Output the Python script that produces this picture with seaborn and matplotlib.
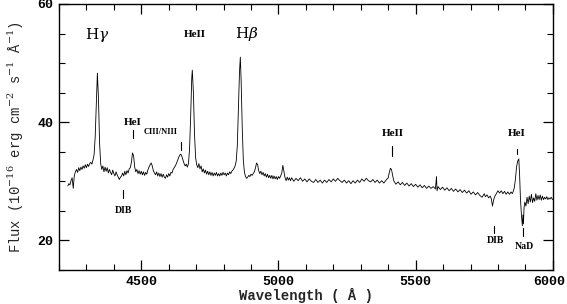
import matplotlib
matplotlib.use("Agg")
import matplotlib.pyplot as plt
import matplotlib.transforms as mtransforms
import seaborn as sns
import pandas as pd
from matplotlib.ticker import MultipleLocator

wave = [4232, 4236, 4240, 4244, 4248, 4252, 4256, 4260, 4264, 4268, 4272, 4276, 4280, 4284, 4288, 4292, 4296, 4300, 4304, 4308, 4312, 4316, 4320, 4324, 4328, 4332, 4336, 4340, 4344, 4348, 4352, 4356, 4360, 4364, 4368, 4372, 4376, 4380, 4384, 4388, 4392, 4396, 4400, 4404, 4408, 4412, 4416, 4420, 4424, 4428, 4432, 4436, 4440, 4444, 4448, 4452, 4456, 4460, 4464, 4468, 4472, 4476, 4480, 4484, 4488, 4492, 4496, 4500, 4504, 4508, 4512, 4516, 4520, 4524, 4528, 4532, 4536, 4540, 4544, 4548, 4552, 4556, 4560, 4564, 4568, 4572, 4576, 4580, 4584, 4588, 4592, 4596, 4600, 4604, 4608, 4612, 4616, 4620, 4624, 4628, 4632, 4636, 4640, 4644, 4648, 4652, 4656, 4660, 4664, 4668, 4672, 4676, 4680, 4684, 4686, 4690, 4694, 4698, 4702, 4706, 4710, 4714, 4718, 4722, 4726, 4730, 4734, 4738, 4742, 4746, 4750, 4754, 4758, 4762, 4766, 4770, 4774, 4778, 4782, 4786, 4790, 4794, 4798, 4802, 4806, 4810, 4814, 4818, 4822, 4826, 4830, 4834, 4838, 4842, 4846, 4850, 4854, 4858, 4861, 4864, 4868, 4872, 4876, 4880, 4884, 4888, 4892, 4896, 4900, 4904, 4908, 4912, 4916, 4920, 4924, 4928, 4932, 4936, 4940, 4944, 4948, 4952, 4956, 4960, 4964, 4968, 4972, 4976, 4980, 4984, 4988, 4992, 4996, 5000, 5004, 5008, 5012, 5016, 5020, 5024, 5028, 5032, 5036, 5040, 5044, 5048, 5056, 5064, 5072, 5080, 5088, 5096, 5104, 5112, 5120, 5128, 5136, 5144, 5152, 5160, 5168, 5176, 5184, 5192, 5200, 5208, 5216, 5224, 5232, 5240, 5248, 5256, 5264, 5272, 5280, 5288, 5296, 5304, 5312, 5320, 5328, 5336, 5344, 5352, 5360, 5368, 5376, 5384, 5392, 5400, 5404, 5408, 5412, 5416, 5420, 5428, 5436, 5444, 5452, 5460, 5468, 5476, 5484, 5492, 5500, 5508, 5516, 5524, 5532, 5540, 5548, 5556, 5564, 5572, 5576, 5578, 5582, 5590, 5598, 5606, 5614, 5622, 5630, 5638, 5646, 5654, 5662, 5670, 5678, 5686, 5694, 5702, 5710, 5718, 5726, 5734, 5742, 5750, 5754, 5760, 5766, 5772, 5776, 5780, 5784, 5788, 5794, 5800, 5806, 5812, 5818, 5824, 5830, 5836, 5842, 5848, 5852, 5856, 5860, 5864, 5868, 5872, 5876, 5879, 5882, 5886, 5889, 5891, 5893, 5895, 5898, 5902, 5906, 5910, 5914, 5918, 5922, 5926, 5930, 5934, 5938, 5942, 5946, 5950, 5954, 5958, 5962, 5966, 5970, 5974, 5978, 5982, 5986, 5990, 5994, 5999]

flux = [29.2, 29.6, 29.4, 30.1, 30.6, 28.8, 31.0, 31.6, 32.0, 31.5, 32.3, 31.8, 32.4, 32.0, 32.6, 32.2, 32.8, 32.3, 32.9, 32.5, 33.0, 33.2, 32.9, 33.6, 34.5, 37.5, 43.0, 48.3, 44.0, 36.5, 33.0, 32.0, 32.6, 31.6, 32.4, 31.7, 32.3, 31.4, 32.0, 31.5, 31.1, 31.9, 31.3, 30.9, 31.6, 31.1, 30.7, 30.3, 30.7, 30.9, 31.4, 30.9, 31.7, 31.1, 31.8, 31.4, 32.1, 32.3, 33.2, 34.8, 34.3, 32.4, 31.6, 32.0, 31.3, 31.8, 31.2, 31.7, 31.1, 31.6, 31.0, 31.5, 31.2, 31.9, 32.4, 32.8, 33.1, 32.6, 31.8, 31.4, 31.1, 31.6, 30.9, 31.4, 30.8, 31.3, 30.7, 31.2, 30.7, 30.5, 31.1, 30.7, 31.3, 30.9, 31.5, 31.4, 32.0, 32.3, 32.6, 33.0, 33.5, 34.0, 34.4, 34.6, 34.2, 33.6, 33.0, 32.6, 32.9, 32.4, 33.0, 35.5, 41.0, 47.5, 48.8, 45.0, 38.0, 34.0, 32.8, 32.3, 33.0, 32.1, 32.6, 31.6, 32.1, 31.4, 31.9, 31.2, 31.7, 31.1, 31.6, 31.0, 31.5, 30.9, 31.4, 31.0, 31.5, 30.9, 31.3, 30.9, 31.4, 31.0, 31.5, 31.1, 31.4, 30.9, 31.4, 31.1, 31.6, 31.3, 31.7, 31.9, 32.2, 32.6, 33.4, 36.0, 42.0, 48.5, 51.0, 47.0, 39.0, 33.5, 31.5, 30.8, 30.5, 30.7, 31.0, 30.8, 31.2, 31.0, 31.3, 31.6, 32.2, 33.1, 32.8, 31.8, 31.3, 31.7, 31.1, 31.5, 30.9, 31.3, 30.7, 31.2, 30.6, 31.0, 30.5, 31.0, 30.4, 30.9, 30.4, 30.8, 30.3, 30.8, 30.5, 30.9, 31.4, 32.7, 31.6, 30.6, 30.1, 30.7, 30.2, 30.6, 30.1, 30.6, 30.0, 30.5, 30.1, 30.6, 30.0, 30.4, 29.9, 30.4, 30.0, 29.8, 30.3, 29.8, 30.2, 29.7, 30.2, 29.8, 30.3, 29.9, 30.4, 30.0, 30.5, 30.1, 29.8, 30.2, 29.7, 30.1, 29.6, 30.1, 29.7, 30.2, 29.8, 30.4, 30.0, 30.5, 30.1, 29.9, 30.3, 29.8, 30.2, 29.7, 30.1, 29.7, 30.2, 30.6, 31.5, 32.2, 32.0, 31.0, 30.1, 29.5, 29.9, 29.4, 29.8, 29.3, 29.7, 29.2, 29.6, 29.1, 29.5, 29.0, 29.4, 28.9, 29.3, 28.8, 29.2, 28.8, 29.1, 28.7, 30.8, 28.4, 29.1, 28.6, 29.0, 28.5, 28.9, 28.4, 28.8, 28.3, 28.7, 28.2, 28.6, 28.1, 28.5, 28.0, 28.4, 27.8, 28.2, 27.7, 28.1, 27.6, 27.3, 27.9, 27.4, 27.7, 27.2, 27.5, 27.0, 25.8, 26.8, 27.4, 27.9, 28.4, 28.0, 28.4, 27.9, 28.3, 27.8, 28.2, 27.8, 28.2, 27.9, 28.3, 29.0, 30.5, 32.5, 33.4, 33.8, 31.0, 27.0, 24.0, 22.5, 24.3, 22.8, 25.5, 26.5, 25.8, 27.3, 26.2, 27.5, 26.5, 27.8, 26.4, 27.2, 26.6, 27.9, 26.8, 27.6, 26.9, 27.7, 26.8, 27.5, 26.9, 27.3, 27.0, 27.4, 26.9, 27.2, 27.0, 27.3, 26.9]

# line labels
labels = ["H$\\gamma$", "HeII", "H$\\beta$", "HeI", "CIII/NIII", "HeII", "HeI", "DIB", "DIB", "NaD"]
label_x = [4339, 4696, 4886, 4470, 4572, 5415, 5868, 4434, 5791, 5897]
label_y = [54.7, 54.9, 54.9, 40.0, 38.3, 38.0, 38.0, 25.1, 20.0, 19.0]
label_size = [11, 8, 11, 8, 6, 8, 8, 7, 7, 7]

# marker bars: x, y0, y1
mark_x = [4470, 4645, 5415, 5868, 4434, 5784, 5893]
mark_y0 = [37.3, 35.3, 34.2, 34.6, 27.1, 21.2, 20.8]
mark_y1 = [38.6, 36.6, 35.9, 35.5, 28.5, 22.4, 22.1]

sns.set_style("ticks")
plt.rcParams['font.family'] = ['Liberation Mono', 'DejaVu Sans']
plt.rcParams['mathtext.fontset'] = 'dejavuserif'

fig = plt.figure(figsize=(5.67, 3.04), dpi=100)
ax = fig.add_axes([0.104, 0.112, 0.871, 0.875])

df = pd.DataFrame({"wave": wave, "flux": flux})
sns.lineplot(data=df, x="wave", y="flux", ax=ax, color="black", lw=0.6, estimator=None)

for t, x, y, s in zip(labels, label_x, label_y, label_size):
    if "$" in t:
        ax.text(x, y, t, ha="center", va="center", fontsize=s,
                family="DejaVu Serif", color="black")
    else:
        ax.text(x, y, t, ha="center", va="center", fontsize=s, fontweight="bold",
                family="Liberation Serif", color="black")
for x, a, b in zip(mark_x, mark_y0, mark_y1):
    ax.plot([x, x], [a, b], color="black", lw=0.8)

ax.set_xlim(4200, 6000)
ax.set_ylim(15, 60)
ax.xaxis.set_major_locator(MultipleLocator(500))
ax.xaxis.set_minor_locator(MultipleLocator(100))
ax.yaxis.set_major_locator(MultipleLocator(20))
ax.yaxis.set_minor_locator(MultipleLocator(5))
ax.tick_params(which="both", direction="in", top=True, right=True, colors="black")
ax.tick_params(which="major", length=7, width=0.9, labelsize=9.5, pad=4)
ax.tick_params(which="minor", length=4.5, width=0.8)
for sp in ax.spines.values():
    sp.set_linewidth(1.0)
    sp.set_color("black")

ax.set_xlabel("Wavelength ( Å )", fontsize=10, fontweight="bold", labelpad=0)
ax.set_ylabel("Flux (10$^{-16}$ erg cm$^{-2}$ s$^{-1}$ Å$^{-1}$)", fontsize=10, labelpad=8)

fig.canvas.draw()
xlabs = ax.get_xticklabels()
for lab in xlabs + ax.get_yticklabels():
    lab.set_fontweight("bold")
# nudge the rightmost x tick label so it stays inside the canvas
for lab in xlabs:
    if lab.get_text() in ("6000", "−6000") or lab.get_position()[0] == 6000:
        lab.set_transform(lab.get_transform() + mtransforms.ScaledTranslation(-4 / 100, 0, fig.dpi_scale_trans))

fig.savefig("out.png", dpi=100)
